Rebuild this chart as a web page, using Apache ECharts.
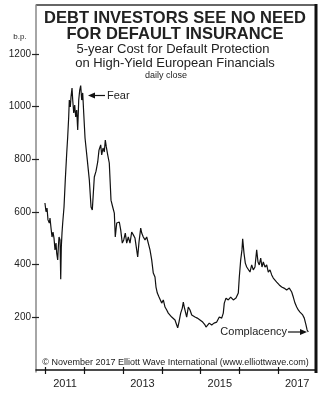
<!DOCTYPE html>
<html><head><meta charset="utf-8">
<script src="https://cdn.jsdelivr.net/npm/echarts@6/dist/echarts.min.js"></script>
<style>html,body{margin:0;padding:0;background:#fff}#c{width:323px;height:394px}</style>
</head><body><div id="c"></div>
<script>
// decimal years
const years = [2010.98,2011.008,2011.034,2011.059,2011.093,2011.111,2011.137,2011.163,2011.189,2011.214,2011.240,2011.266,2011.284,2011.310,2011.326,2011.344,2011.370,2011.388,2011.403,2011.421,2011.439,2011.473,2011.506,2011.543,2011.568,2011.594,2011.610,2011.636,2011.654,2011.680,2011.698,2011.724,2011.749,2011.775,2011.801,2011.827,2011.853,2011.879,2011.904,2011.930,2011.956,2011.982,2012.016,2012.075,2012.127,2012.171,2012.204,2012.256,2012.300,2012.344,2012.377,2012.421,2012.447,2012.481,2012.514,2012.540,2012.566,2012.602,2012.643,2012.687,2012.731,2012.773,2012.798,2012.835,2012.868,2012.902,2012.938,2012.979,2013.016,2013.057,2013.093,2013.134,2013.178,2013.222,2013.264,2013.307,2013.351,2013.377,2013.411,2013.455,2013.481,2013.522,2013.566,2013.610,2013.651,2013.695,2013.739,2013.780,2013.824,2013.850,2013.884,2013.928,2013.972,2013.997,2014.039,2014.083,2014.127,2014.168,2014.212,2014.256,2014.297,2014.341,2014.385,2014.411,2014.444,2014.488,2014.530,2014.556,2014.581,2014.643,2014.685,2014.729,2014.773,2014.798,2014.858,2014.917,2014.987,2015.057,2015.116,2015.142,2015.176,2015.227,2015.289,2015.349,2015.419,2015.486,2015.548,2015.589,2015.615,2015.659,2015.718,2015.780,2015.848,2015.917,2015.977,2016.003,2016.039,2016.072,2016.090,2016.124,2016.158,2016.194,2016.235,2016.279,2016.323,2016.364,2016.408,2016.452,2016.486,2016.519,2016.556,2016.589,2016.623,2016.667,2016.711,2016.752,2016.796,2016.840,2016.881,2016.925,2016.969,2017.036,2017.098,2017.158,2017.227,2017.295,2017.357,2017.398,2017.442,2017.486,2017.527,2017.571,2017.641,2017.682,2017.726,2017.755,2017.786];
// basis points, daily close (sampled)
const bp = [634,601,615,570,558,577,539,505,524,501,456,482,444,418,467,505,494,345,467,520,558,619,722,824,885,961,1025,999,1037,1071,1025,976,1006,961,987,911,1025,1063,1080,1025,1052,976,881,797,722,619,608,733,755,790,835,855,817,843,828,873,847,817,786,645,619,596,505,558,551,562,532,482,494,520,482,505,482,524,513,501,456,429,486,539,520,505,494,505,501,456,418,368,353,315,292,277,273,254,266,239,228,216,220,201,197,190,171,160,182,216,235,258,239,201,239,228,209,209,201,197,190,182,171,163,163,178,171,178,182,201,197,216,254,273,266,277,266,273,292,353,418,456,498,444,406,391,387,372,399,380,391,456,410,399,425,391,410,391,399,372,380,361,349,353,334,323,315,311,304,311,296,277,254,239,228,220,209,197,171,152,144];
const yTicks = [200,400,600,800,1000,1200];
const xTicks = [2011,2012,2013,2014,2015,2016,2017];
const xLabels = [2011,2013,2015,2017];

const chart = echarts.init(document.getElementById('c'), null, {renderer:'canvas'});
const F = "'Liberation Sans', Arial, Helvetica, sans-serif";
const yMin = -7.6, yMax = 1386, xMin = 2010.749, xMax = 2017.985;
chart.setOption({
  animation:false,
  backgroundColor:'#fff',
  grid:{left:36,right:7,top:5,bottom:22},
  xAxis:[{
    type:'value',min:xMin,max:xMax,
    axisLine:{show:true,lineStyle:{color:'#111',width:1.5}},
    axisTick:{show:true,customValues:xTicks,length:4,lineStyle:{color:'#111',width:1.2}},
    axisLabel:{show:true,customValues:xLabels.map(v=>v+0.5),formatter:v=>String(Math.floor(v)),fontFamily:F,fontSize:11,color:'#222',margin:6},
    splitLine:{show:false}
  },{
    type:'value',min:xMin,max:xMax,position:'bottom',
    axisLine:{show:false},
    axisTick:{show:true,inside:true,customValues:xTicks,length:3,lineStyle:{color:'#111',width:1.2}},
    axisLabel:{show:false},splitLine:{show:false}
  }],
  yAxis:[{
    type:'value',min:yMin,max:yMax,position:'left',
    axisLine:{show:true,lineStyle:{color:'#888',width:1.5}},
    axisTick:{show:true,customValues:yTicks,length:4,lineStyle:{color:'#222',width:1.2}},
    axisLabel:{show:true,customValues:yTicks,formatter:v=>String(v),fontFamily:F,fontSize:10,color:'#222',margin:5},
    splitLine:{show:false}
  },{
    type:'value',min:yMin,max:yMax,position:'left',
    axisLine:{show:false},
    axisTick:{show:true,inside:true,customValues:yTicks,length:3,lineStyle:{color:'#222',width:1.2}},
    axisLabel:{show:false},splitLine:{show:false}
  }],
  series:[{
    type:'line',showSymbol:false,
    data:years.map((y,i)=>[y,bp[i]]),
    lineStyle:{color:'#111',width:1.2},
    z:3
  }],
  graphic:[
    {type:'line',shape:{x1:36,y1:5,x2:317,y2:5},style:{stroke:'#333',lineWidth:1.5},silent:true},
    {type:'line',shape:{x1:316,y1:4,x2:316,y2:373},style:{stroke:'#111',lineWidth:3},silent:true},
    {type:'text',x:20,y:37,style:{text:'b.p.',font:'8px '+F,fill:'#222',textAlign:'center',textVerticalAlign:'middle'}},
    {type:'text',x:175,y:18,style:{text:'DEBT INVESTORS SEE NO NEED',font:'bold 16.5px '+F,fill:'#222',textAlign:'center',textVerticalAlign:'middle'}},
    {type:'text',x:175,y:34,style:{text:'FOR DEFAULT INSURANCE',font:'bold 16.5px '+F,fill:'#222',textAlign:'center',textVerticalAlign:'middle'}},
    {type:'text',x:173,y:49,style:{text:'5-year Cost for Default Protection',font:'13px '+F,fill:'#222',textAlign:'center',textVerticalAlign:'middle'}},
    {type:'text',x:175,y:63,style:{text:'on High-Yield European Financials',font:'13px '+F,fill:'#222',textAlign:'center',textVerticalAlign:'middle'}},
    {type:'text',x:166,y:76,style:{text:'daily close',font:'9px '+F,fill:'#222',textAlign:'center',textVerticalAlign:'middle'}},
    {type:'line',shape:{x1:92,y1:95.5,x2:105,y2:95.5},style:{stroke:'#111',lineWidth:1.2}},
    {type:'polygon',shape:{points:[[88,95.5],[95,92.5],[95,98.5]]},style:{fill:'#111'}},
    {type:'text',x:107,y:95.5,style:{text:'Fear',font:'11px '+F,fill:'#222',textAlign:'left',textVerticalAlign:'middle'}},
    {type:'text',x:287,y:332,style:{text:'Complacency',font:'11px '+F,fill:'#222',textAlign:'right',textVerticalAlign:'middle'}},
    {type:'line',shape:{x1:288,y1:332,x2:301,y2:332},style:{stroke:'#111',lineWidth:1.2}},
    {type:'polygon',shape:{points:[[307,332],[300,329],[300,335]]},style:{fill:'#111'}},
    {type:'text',x:175.5,y:363,style:{text:'© November 2017 Elliott Wave International (www.elliottwave.com)',font:'9px '+F,fill:'#222',textAlign:'center',textVerticalAlign:'middle'}}
  ]
});
</script></body></html>
